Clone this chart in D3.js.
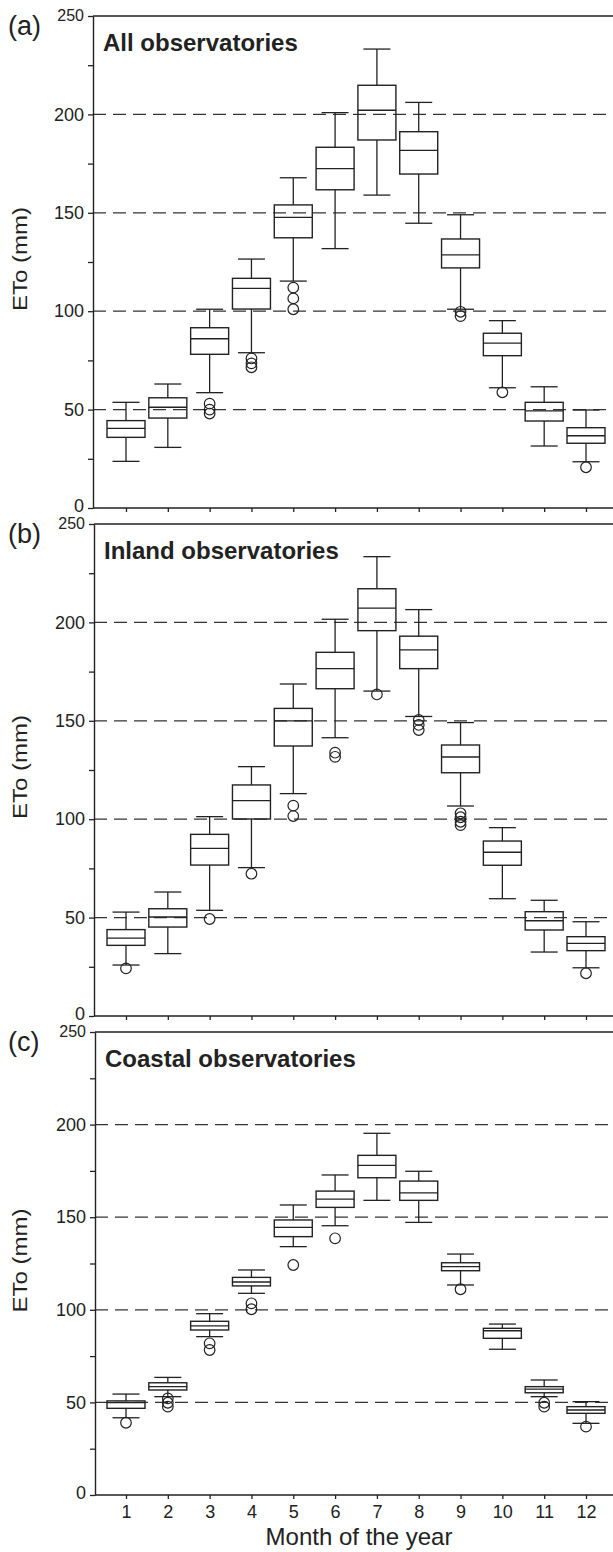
<!DOCTYPE html>
<html><head><meta charset="utf-8">
<script src="https://cdn.jsdelivr.net/npm/d3@7"></script>
<style>
html,body{margin:0;padding:0;background:#fff;}
svg{display:block;font-family:"Liberation Sans",Arial,sans-serif;}
</style></head>
<body>
<svg id="chart" width="613" height="1552"></svg>
<script>
// ---- data ----
const months = [1,2,3,4,5,6,7,8,9,10,11,12];
const yTickValues = [0,25,50,75,100,125,150,175,200,225,250];
const yLabelValues = [0,50,100,150,200,250];
const gridValues = [50,100,150,200];
const panelLetters = ["(a)","(b)","(c)"];
const panelTitles = ["All observatories","Inland observatories","Coastal observatories"];
const yAxisTitle = "ETo (mm)";
const xAxisTitle = "Month of the year";

// [lower whisker, Q1, median, Q3, upper whisker] per month
const allStats = [
  [23.7,35.9,40.5,44.4,53.7],[30.8,45.7,51.2,56,63],[58.6,78.1,86,91.6,101],
  [78.9,101.1,111.6,116.7,126.5],[115.3,137.3,147.7,154,167.8],[131.8,161.7,172.4,183.3,200.9],
  [159,187,202.1,214.8,233.2],[144.7,169.7,181.7,191.2,206.1],[101,122,128.6,136.7,149],
  [61.1,77.4,83.8,88.8,95.2],[31.5,44.2,49.4,53.7,61.6],[23.5,32.9,36.7,40.8,49.8]
];
const allOutliers = [[],[],[53,50,48],[76,73.5,71.5],[112,106.5,101],[],[],[],[99.7,97.5],[58.8],[],[20.7]];

const inlandStats = [
  [25.9,35.9,39.6,43.9,52.8],[31.7,45.2,50.3,54.5,63],[53.7,76.7,85.2,92.3,101.3],
  [75.4,100.1,109.4,117.4,126.7],[113,137.2,150,156.3,168.7],[141.4,166.3,176.5,184.8,201.6],
  [165.1,195.8,207.3,217.1,233.4],[152.2,176.5,186,193,206.5],[106.7,123.6,131.6,137.7,149.1],
  [59.6,76.6,83.2,88.9,95.7],[32.5,43.7,48.4,53,58.8],[24.5,33.2,36.9,40.3,47.9]
];
const inlandOutliers = [[24.2],[],[49.3],[72.3],[106.9,101.6],[133.8,131.7],[163.4],[150.4,147.9,145.3],[103,101,98.7,97],[],[],[21.7]];

const coastalStats = [
  [41.7,46.8,49.9,50.8,54.5],[53.1,56.7,58.5,60.6,63.5],[85.5,89.1,91.3,93.8,97.9],
  [108.9,112.9,115,117.5,121.5],[134.1,139.5,144.5,148.5,156.6],[145.4,155.3,159.8,164.1,172.8],
  [159.1,171.3,178,183.4,195.3],[147.2,159.1,163.1,169.5,174.8],[113.4,121.1,123.3,125.4,130.1],
  [78.7,84.6,88.7,90,92.3],[53.1,55.2,57.2,58.5,62.1],[38.7,44.1,45.9,47.7,50.4]
];
const coastalOutliers = [[39],[52.2,49.8,47.7],[81.9,78.3],[103.5,100.3],[124.2],[138.6],[],[],[111.1],[],[49.8,47.7],[36.9]];

// ---- layout ----
const panels = [
  {stats: allStats, outliers: allOutliers, top: 16, bottom: 508, left: 93},
  {stats: inlandStats, outliers: inlandOutliers, top: 524, bottom: 1016, left: 94},
  {stats: coastalStats, outliers: coastalOutliers, top: 1032, bottom: 1495, left: 95}
];
const ink = "#222";
const svg = d3.select("#chart");
const x = d3.scaleLinear().domain([1,12]).range([126,586]);
const rightEdge = 613;
const boxW = 38, capW = 27;

panels.forEach((p, i) => {
  const y = d3.scaleLinear().domain([0,250]).range([p.bottom, p.top]);
  const g = svg.append("g");

  // dashed gridlines
  g.selectAll("line.grid").data(gridValues).join("line")
    .attr("x1", p.left).attr("x2", rightEdge)
    .attr("y1", d => y(d)).attr("y2", d => y(d))
    .attr("stroke", "#333").attr("stroke-width", 1.3)
    .attr("stroke-dasharray", "13,7");

  // top frame
  g.append("line").attr("x1", p.left).attr("x2", rightEdge)
    .attr("y1", p.top).attr("y2", p.top).attr("stroke", ink).attr("stroke-width", 1.4);

  // y axis
  const yAxis = d3.axisLeft(y).tickValues(yTickValues).tickSize(5).tickSizeOuter(0)
    .tickFormat(d => yLabelValues.includes(d) ? d : "");
  const ya = g.append("g").attr("transform", `translate(${p.left},0)`).call(yAxis);
  ya.select(".domain").attr("stroke", ink).attr("stroke-width", 1.4);
  ya.selectAll(".tick line").attr("stroke", ink).attr("stroke-width", 1.3);
  ya.selectAll(".tick text").attr("font-size", d => d === 250 ? 16 : 18).attr("fill", ink)
    .attr("font-family", "Liberation Sans, Arial, sans-serif").attr("x", -9)
    .attr("dy", d => d === 250 ? "0.3em" : (d === 0 ? "0.22em" : "0.32em"));

  // x axis
  const xAxis = d3.axisBottom(x).tickValues(months).tickSize(4).tickSizeOuter(0)
    .tickFormat(i === 2 ? d3.format("d") : () => "");
  const xa = g.append("g").attr("transform", `translate(0,${p.bottom})`).call(xAxis);
  xa.select(".domain").attr("d", `M${p.left},0H${rightEdge}`).attr("stroke", ink).attr("stroke-width", 1.4);
  xa.selectAll(".tick line").attr("stroke", ink).attr("stroke-width", 1.3);
  xa.selectAll(".tick text").attr("font-size", 18).attr("fill", ink)
    .attr("font-family", "Liberation Sans, Arial, sans-serif").attr("y", 10);

  // letters & titles
  g.append("text").attr("x", 8).attr("y", p.top + 19).attr("font-size", 27).attr("fill", ink)
    .text(panelLetters[i]);
  g.append("text").attr("x", p.left + 10).attr("y", p.top + 35).attr("font-size", 24)
    .attr("font-weight", "bold").attr("fill", ink).text(panelTitles[i]);

  // y title
  const cy = (p.top + p.bottom) / 2 - 3;
  g.append("text").attr("transform", `translate(27,${cy}) rotate(-90)`)
    .attr("text-anchor", "middle").attr("font-size", 20)
    .attr("textLength", 104).attr("lengthAdjust", "spacingAndGlyphs")
    .attr("fill", ink).text(yAxisTitle);

  // boxes
  const bx = g.selectAll("g.box").data(p.stats.map((s, k) => ({m: months[k], s, o: p.outliers[k]})))
    .join("g").attr("class", "box");
  bx.append("line").attr("x1", d => x(d.m)).attr("x2", d => x(d.m))
    .attr("y1", d => y(d.s[0])).attr("y2", d => y(d.s[1])).attr("stroke", ink).attr("stroke-width", 1.3);
  bx.append("line").attr("x1", d => x(d.m)).attr("x2", d => x(d.m))
    .attr("y1", d => y(d.s[3])).attr("y2", d => y(d.s[4])).attr("stroke", ink).attr("stroke-width", 1.3);
  [0, 4].forEach(j => {
    bx.append("line").attr("x1", d => x(d.m) - capW / 2).attr("x2", d => x(d.m) + capW / 2)
      .attr("y1", d => y(d.s[j])).attr("y2", d => y(d.s[j])).attr("stroke", ink).attr("stroke-width", 1.3);
  });
  bx.append("rect").attr("x", d => x(d.m) - boxW / 2).attr("width", boxW)
    .attr("y", d => y(d.s[3])).attr("height", d => y(d.s[1]) - y(d.s[3]))
    .attr("fill", "none").attr("stroke", ink).attr("stroke-width", 1.4);
  bx.append("line").attr("x1", d => x(d.m) - boxW / 2).attr("x2", d => x(d.m) + boxW / 2)
    .attr("y1", d => y(d.s[2])).attr("y2", d => y(d.s[2])).attr("stroke", ink).attr("stroke-width", 1.3);
  bx.each(function(d) {
    d3.select(this).selectAll("circle").data(d.o).join("circle")
      .attr("cx", x(d.m)).attr("cy", v => y(v)).attr("r", 5.3)
      .attr("fill", "none").attr("stroke", ink).attr("stroke-width", 1.2);
  });
});

// x title
svg.append("text").attr("x", 359).attr("y", 1545).attr("text-anchor", "middle")
  .attr("font-size", 24).attr("fill", ink).text(xAxisTitle);
</script>
</body></html>
